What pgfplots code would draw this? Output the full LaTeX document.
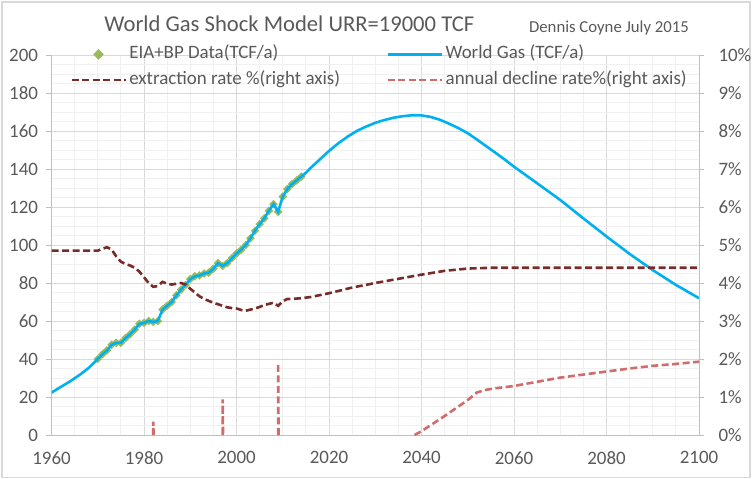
\documentclass[border=0pt]{standalone}
\usepackage{fontspec}
\setmainfont{Carlito}
\usepackage{pgfplots}
\pgfplotsset{compat=1.18}
\definecolor{txt}{HTML}{595959}
\definecolor{gmaj}{HTML}{D9D9D9}
\definecolor{gmin}{HTML}{F0F0F0}
\definecolor{axln}{HTML}{BFBFBF}
\definecolor{gasblue}{HTML}{00B0F0}
\definecolor{datagreen}{HTML}{9BBB59}
\definecolor{extred}{HTML}{772C2A}
\definecolor{decred}{HTML}{D06C6C}
\pgfplotsset{
  lineleg/.style={legend image code/.code={\draw[##1] (0bp,0bp) -- (54bp,0bp);}},
  markleg/.style={legend image code/.code={\draw[##1, mark size=3.5bp] plot coordinates {(27bp,0bp)};}},
}
\begin{document}
\begin{tikzpicture}
\path[use as bounding box] (-51.5bp,-44bp) rectangle (700.5bp,435bp);
\draw[gmaj, line width=1.5bp] (-49.5bp,-42.5bp) rectangle (698.5bp,433bp);
\node[text=txt, font=\fontsize{22.7}{26}\selectfont, anchor=base, inner sep=0pt] at (237.9bp,403.3bp) {World Gas Shock Model URR=19000 TCF};
\node[text=txt, font=\fontsize{16.8}{20}\selectfont, anchor=base, inner sep=0pt] at (557.5bp,402.7bp) {Dennis Coyne July 2015};
\begin{axis}[
  at={(0bp,0bp)}, anchor=south west, scale only axis,
  width=647.5bp, height=380bp,
  xmin=1960, xmax=2100, ymin=0, ymax=200,
  clip marker paths=true,
  axis y line*=left, axis x line*=bottom,
  axis line style={axln, line width=0.8bp},
  xtick={1960,1980,...,2100}, minor x tick num=3,
  ytick={0,20,...,200}, minor y tick num=3,
  grid=both, major grid style={gmaj, line width=0.8bp}, minor grid style={gmin, line width=0.8bp},
  tick align=outside, major tick length=5bp, minor tick length=0pt,
  xtick style={draw=none}, ytick style={axln, line width=0.8bp},
  ticklabel style={font=\fontsize{19}{22}\selectfont, text=txt},
  xticklabel style={yshift=-8bp},
  yticklabel style={xshift=-5bp},
  /pgf/number format/assume math mode=true, /pgf/number format/1000 sep={},
  legend columns=2,
  legend cell align=left,
  legend style={draw=none, fill=none, at={(0.0286,1.0289)}, anchor=north west,
    font=\fontsize{19}{22}\selectfont, text=txt, inner sep=0pt, row sep=5bp,
    nodes={inner sep=2.5bp, text height=12bp, text depth=3.5bp},
    /tikz/every even column/.append style={column sep=44bp}},
]
\addplot[only marks, mark=square*, mark size=2.8bp, mark options={rotate=45}, color=datagreen, markleg] coordinates {
(1970,40.0) (1971,42.5) (1972,44.5) (1973,47.5) (1974,48.5) (1975,48.5) (1976,51) (1977,53)
(1978,55.5) (1979,58.5) (1980,59) (1981,60) (1982,59.5) (1983,60) (1984,66) (1985,68)
(1986,70) (1987,73.5) (1988,76.5) (1989,79) (1990,82) (1991,83.5) (1992,84) (1993,85)
(1994,85.5) (1995,87.5) (1996,90.5) (1997,89) (1998,90.5) (1999,93) (2000,95.5) (2001,97.5)
(2002,100) (2003,103.5) (2004,107.5) (2005,111) (2006,114) (2007,118) (2008,121.5) (2009,117.5)
(2010,125.5) (2011,129.5) (2012,132) (2013,134) (2014,136)
};
\addlegendentry{EIA+BP Data(TCF/a)}
\addplot[gasblue, line width=2.6bp, no marks, lineleg] coordinates {
(1960,22.3) (1962,25.3) (1964,28.2) (1966,31.5) (1968,35.2)
(1970,40.0) (1971,42.5) (1972,44.5) (1973,47.5) (1974,48.5) (1975,48.5) (1976,51) (1977,53)
(1978,55.5) (1979,58.5) (1980,59) (1981,60) (1982,59.5) (1983,60) (1984,66) (1985,68)
(1986,70) (1987,73.5) (1988,76.5) (1989,79) (1990,82) (1991,83.5) (1992,84) (1993,85)
(1994,85.5) (1995,87.5) (1996,90.5) (1997,89) (1998,90.5) (1999,93) (2000,95.5) (2001,97.5)
(2002,100) (2003,103.5) (2004,107.5) (2005,111) (2006,114) (2007,118) (2008,121.5) (2009,117.5)
(2010,125.5) (2011,129.5) (2012,132) (2013,134) (2014,136)
(2015,138) (2016,140.5) (2018,145) (2020,149.5) (2022,153.5) (2024,157) (2026,160) (2028,162.3)
(2030,164.3) (2032,165.8) (2034,167) (2036,167.8) (2038,168.3) (2040,168.2) (2042,167.4)
(2044,165.9) (2046,163.8) (2048,161.5) (2050,158.8) (2052,155.5) (2054,152) (2056,148.5)
(2058,145) (2060,141.2) (2065,132.5) (2070,123.7) (2075,114) (2080,104.5) (2085,95.3)
(2090,86.8) (2095,79) (2100,72)
};
\addlegendentry{World Gas (TCF/a)}
\addlegendimage{extred, line width=2.6bp, dash pattern=on 7bp off 3.5bp, lineleg}
\addlegendentry{extraction rate \%(right axis)}
\addlegendimage{decred, line width=2.6bp, dash pattern=on 7bp off 3.5bp, lineleg}
\addlegendentry{annual decline rate\%(right axis)}
\end{axis}
\begin{axis}[
  at={(0bp,0bp)}, anchor=south west, scale only axis,
  width=647.5bp, height=380bp,
  xmin=1960, xmax=2100, ymin=0, ymax=10,
  axis y line*=right, axis x line=none,
  axis line style={axln, line width=0.8bp},
  ytick={0,1,...,10},
  yticklabels={0\%,1\%,2\%,3\%,4\%,5\%,6\%,7\%,8\%,9\%,10\%},
  tick align=outside, major tick length=5bp,
  ytick style={axln, line width=0.8bp},
  ticklabel style={font=\fontsize{19}{22}\selectfont, text=txt},
  yticklabel style={anchor=west, xshift=11bp},
  unbounded coords=jump,
]
\addplot[extred, line width=2.6bp, dash pattern=on 7bp off 3.5bp, no marks] coordinates {
(1960,4.85) (1970,4.85) (1971,4.90) (1972,4.94) (1973,4.88) (1974,4.70) (1975,4.56) (1976,4.50)
(1977,4.46) (1978,4.40) (1979,4.30) (1980,4.15) (1981,4.00) (1982,3.90) (1983,3.92) (1984,4.03)
(1985,3.98) (1986,3.96) (1987,3.98) (1988,4.00) (1989,3.96) (1990,3.85) (1991,3.75) (1992,3.65)
(1993,3.58) (1994,3.53) (1995,3.48) (1996,3.44) (1997,3.40) (1998,3.36) (1999,3.34) (2000,3.33)
(2001,3.29) (2002,3.27) (2003,3.30) (2004,3.33) (2005,3.37) (2006,3.42) (2007,3.45) (2008,3.48)
(2009,3.40) (2010,3.52) (2011,3.58) (2012,3.58) (2013,3.59) (2014,3.60) (2016,3.63) (2018,3.68)
(2020,3.73) (2025,3.88) (2030,4.00) (2035,4.11) (2040,4.22) (2045,4.32) (2050,4.38) (2055,4.40)
(2060,4.40) (2100,4.40)
};
\addplot[decred, line width=2.6bp, dash pattern=on 7bp off 3.5bp, no marks] coordinates {
(1982,0) (1982,0.35) (1982.1,0) (1990,nan)
(1997,0) (1997,0.94) (1997.1,0) (2003,nan)
(2009,0) (2009,1.89) (2009.1,0) (2020,nan)
(2038.5,0) (2040,0.10) (2045,0.50) (2050,0.92) (2052,1.12) (2054,1.19) (2056,1.23) (2060,1.29)
(2065,1.40) (2070,1.51) (2075,1.59) (2080,1.67) (2085,1.75) (2090,1.82) (2095,1.87) (2100,1.93)
};
\end{axis}
\end{tikzpicture}
\end{document}
